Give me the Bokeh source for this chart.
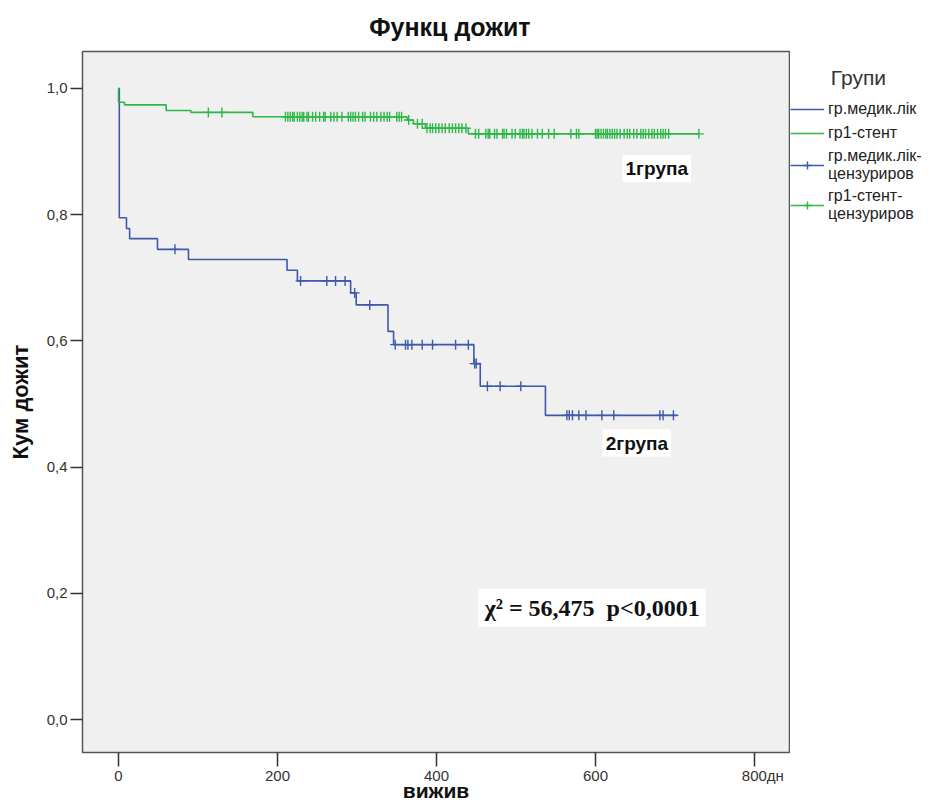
import numpy as np
from bokeh.plotting import figure
from bokeh.layouts import row
from bokeh.models import (Range1d, Label, Legend, LegendItem,
                          CustomJSTickFormatter, FixedTicker)
from bokeh.embed import file_html
from bokeh.resources import INLINE

# ---------------- data ----------------
# group "гр.медик.лік" (2 група): Kaplan-Meier step points
med_time = [0, 1, 10, 14, 49, 88, 212, 225, 292, 299, 339, 346, 447, 455, 537, 703]
med_surv = [1.0, 0.795, 0.778, 0.762, 0.745, 0.729, 0.712, 0.695, 0.676, 0.657,
            0.615, 0.594, 0.564, 0.528, 0.482, 0.482]
med_censored = [71, 229, 262, 273, 285, 297, 316, 348, 361, 364, 369, 382, 395, 424,
                440, 448, 450, 464, 480, 506, 564, 567, 571, 579, 588, 608, 623, 681,
                685, 698]

# group "гр1-стент" (1 група)
stent_time = [0, 0, 7.5, 60, 91, 169, 363, 371, 386, 440, 730]
stent_surv = [1.0, 0.978, 0.974, 0.965, 0.962, 0.955, 0.950, 0.944, 0.937, 0.928, 0.928]
stent_censored = [113, 130, 210, 213, 216, 219, 221, 225, 228, 231, 233, 237, 239, 244,
                  248, 253, 258, 260, 267, 271, 275, 281, 289, 292, 295, 298, 302, 307,
                  310, 317, 321, 325, 330, 334, 338, 341, 350, 353, 356, 365, 376, 382,
                  388, 392, 395, 399, 403, 407, 411, 416, 420, 424, 428, 432, 437, 449,
                  453, 462, 465, 467, 473, 476, 483, 485, 488, 495, 499, 505, 508, 510,
                  513, 516, 520, 527, 533, 541, 548, 569, 576, 579, 600, 602, 604, 607,
                  610, 613, 615, 618, 621, 624, 627, 631, 636, 640, 643, 648, 652, 657,
                  660, 663, 667, 671, 674, 678, 682, 685, 688, 692, 730]

y_ticks = [0.0, 0.2, 0.4, 0.6, 0.8, 1.0]
x_ticks = [0, 200, 400, 600, 800]
x_tick_labels = ["0", "200", "400", "600", "\u00a0\u00a0\u00a0\u00a0800дн"]

title_text = "Функц дожит"
y_label = "Кум дожит"
x_label = "вижив"
legend_title = "Групи"
legend_labels = ["гр.медик.лік", "гр1-стент", "гр.медик.лік-\nцензуриров",
                 "гр1-стент-\nцензуриров"]
label_g1 = "1група"
label_g2 = "2група"
stat_text = "χ² = 56,475\u00a0\u00a0p<0,0001"

BLUE = "#3e58ac"
GREEN = "#2eb848"
SANS = "Liberation Sans"


def level_at(times, surv, t):
    idx = np.searchsorted(np.asarray(times), np.asarray(t), side="right") - 1
    return list(np.asarray(surv)[idx])


med_cens_y = level_at(med_time, med_surv, med_censored)
stent_cens_y = level_at(stent_time, stent_surv, stent_censored)

# ---------------- main figure ----------------
p = figure(width=790, height=807, output_backend="svg", toolbar_location=None,
           x_range=Range1d(-45.3, 844), y_range=Range1d(-0.0522, 1.0585),
           min_border_left=82, min_border_right=1, min_border_top=50,
           min_border_bottom=55)
p.background_fill_color = "#f0f0f0"
p.border_fill_color = "white"
p.outline_line_color = "#555555"
p.outline_line_width = 1.5
p.xgrid.visible = False
p.ygrid.visible = False

p.title.text = "\u00a0" * 4 + title_text
p.title.align = "center"
p.title.text_font = SANS
p.title.text_font_style = "bold"
p.title.text_font_size = "25px"
p.title.text_color = "#111111"
p.title.standoff = 21

# axes
p.yaxis.ticker = FixedTicker(ticks=y_ticks)
p.yaxis.formatter = CustomJSTickFormatter(code="return tick.toFixed(1).replace('.', ',');")
p.yaxis.axis_label = y_label
p.yaxis.axis_label_text_font = SANS
p.yaxis.axis_label_text_font_style = "bold"
p.yaxis.axis_label_text_font_size = "22px"
p.yaxis.axis_label_text_color = "#111111"
p.yaxis.axis_label_standoff = 11

p.xaxis.ticker = FixedTicker(ticks=x_ticks)
p.xaxis.major_label_overrides = dict(zip(x_ticks, x_tick_labels))
p.xaxis.axis_label = x_label
p.xaxis.axis_label_text_font = SANS
p.xaxis.axis_label_text_font_style = "bold"
p.xaxis.axis_label_text_font_size = "21px"
p.xaxis.axis_label_text_color = "#111111"
p.xaxis.axis_label_standoff = -8

for ax in (p.xaxis, p.yaxis):
    ax.axis_line_color = None
    ax.major_tick_line_color = "#333333"
    ax.major_tick_line_width = 1.5
    ax.minor_tick_line_color = None
    ax.major_tick_in = 0
    ax.major_label_text_font = SANS
    ax.major_label_text_font_size = "15px"
    ax.major_label_text_color = "#333333"
p.yaxis.major_tick_out = 12
p.yaxis.major_label_standoff = 3
p.xaxis.major_tick_out = 14
p.xaxis.major_label_standoff = 0

# curves
med_step = p.step(med_time, med_surv, mode="after", line_color=BLUE, line_width=1.6)
stent_step = p.step(stent_time, stent_surv, mode="after", line_color=GREEN, line_width=1.6)
med_cens = p.scatter(med_censored, med_cens_y, marker="cross", size=10,
                     line_color=BLUE, line_width=1.4)
stent_cens = p.scatter(stent_censored, stent_cens_y, marker="cross", size=10,
                       line_color=GREEN, line_width=1.4)

# annotations
p.add_layout(Label(x=634, y=0.873, text=label_g1, text_font=SANS,
                   text_font_style="bold", text_font_size="19px", text_baseline="middle",
                   background_fill_color="white", padding=3, text_color="#111111"))
p.add_layout(Label(x=609, y=0.438, text=label_g2, text_font=SANS,
                   text_font_style="bold", text_font_size="19px", text_baseline="middle",
                   background_fill_color="white", padding=3, text_color="#111111"))
p.add_layout(Label(x=453, y=0.177, text=stat_text, text_font="Liberation Serif",
                   text_font_style="bold", text_font_size="24px", text_baseline="middle",
                   background_fill_color="white", padding=6, text_color="#111111"))

# ---------------- legend panel (separate figure on the right) ----------------
# its ranges keep the key renderers' data out of view: only their legend icons show
lg = figure(width=146, height=807, output_backend="svg", toolbar_location=None,
            x_range=Range1d(-3, -2), y_range=Range1d(0, 1),
            min_border_left=0, min_border_right=0, min_border_top=50,
            min_border_bottom=55)
lg.axis.visible = False
lg.xgrid.visible = False
lg.ygrid.visible = False
lg.outline_line_color = None
lg.background_fill_color = "white"
lg.border_fill_color = "white"

k_med = lg.step(med_time, med_surv, mode="after", line_color=BLUE, line_width=1.6)
k_stent = lg.step(stent_time, stent_surv, mode="after", line_color=GREEN, line_width=1.6)
k_med_c = lg.scatter(med_censored, med_cens_y, marker="cross", size=14,
                     line_color=BLUE, line_width=1.4)
k_stent_c = lg.scatter(stent_censored, stent_cens_y, marker="cross", size=14,
                       line_color=GREEN, line_width=1.4)

legend = Legend(items=[
    LegendItem(label=legend_labels[0], renderers=[k_med]),
    LegendItem(label=legend_labels[1], renderers=[k_stent]),
    LegendItem(label=legend_labels[2], renderers=[k_med, k_med_c]),
    LegendItem(label=legend_labels[3], renderers=[k_stent, k_stent_c]),
], location=(0, 529))
legend.title = "\u00a0" * 7 + legend_title
legend.title_text_font = SANS
legend.title_text_font_size = "21px"
legend.title_text_font_style = "normal"
legend.title_text_color = "#333333"
legend.title_standoff = 9
legend.label_text_font = SANS
legend.label_text_font_size = "16px"
legend.label_text_color = "#222222"
legend.glyph_width = 34
legend.glyph_height = 20
legend.label_height = 20
legend.label_standoff = 4
legend.spacing = 4
legend.padding = 0
legend.margin = 0
legend.border_line_color = None
legend.background_fill_alpha = 0
lg.add_layout(legend, "center")

layout = row(p, lg)
open("out.html", "w").write(file_html(layout, INLINE))
